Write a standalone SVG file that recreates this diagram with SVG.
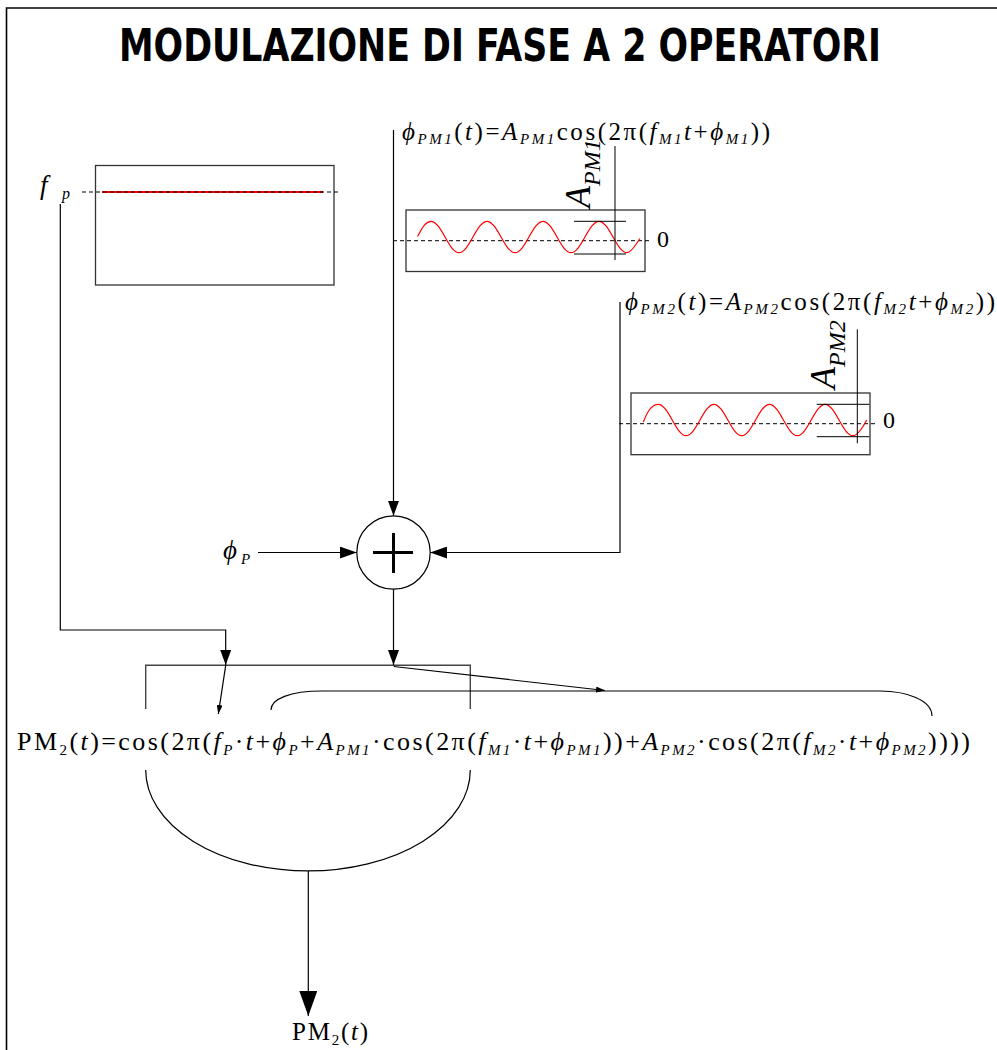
<svg xmlns="http://www.w3.org/2000/svg" width="997" height="1050" viewBox="0 0 997 1050">
<style>
.f{font-family:"Liberation Serif","Times New Roman",serif;font-size:26px;fill:#000}
.i{font-style:italic}
.s{font-size:15px}
.si{font-size:15px;font-style:italic}
.ln{fill:none;stroke:#000;stroke-width:1.2}
.gr{fill:none;stroke:#444;stroke-width:1.4}
.box{fill:none;stroke:#333;stroke-width:1.3}
.dash{fill:none;stroke:#000;stroke-width:1;stroke-dasharray:4 3}
.wave{fill:none;stroke:#f00;stroke-width:1.2}
.tick{fill:none;stroke:#000;stroke-width:1}
</style>
<defs>
<marker id="mBig" markerUnits="userSpaceOnUse" markerWidth="17" markerHeight="12" refX="17" refY="6" orient="auto"><path d="M0,0 L17,6 L0,12 z" fill="#000"/></marker>
<marker id="mMid" markerUnits="userSpaceOnUse" markerWidth="15" markerHeight="11" refX="15" refY="5.5" orient="auto"><path d="M0,0 L15,5.5 L0,11 z" fill="#000"/></marker>
<marker id="mSmall" markerUnits="userSpaceOnUse" markerWidth="9" markerHeight="6" refX="9" refY="3" orient="auto"><path d="M0,0 L9,3 L0,6 z" fill="#000"/></marker>
<marker id="mOut" markerUnits="userSpaceOnUse" markerWidth="25" markerHeight="18" refX="25" refY="9" orient="auto"><path d="M0,0 L25,9 L0,18 z" fill="#000"/></marker>
</defs>
<rect x="0" y="0" width="997" height="1050" fill="#fff"/>
<path d="M6.5,1050 V8 H997" fill="none" stroke="#000" stroke-width="1.6"/>
<text x="119" y="61" font-family="DejaVu Sans, sans-serif" font-weight="bold" font-stretch="condensed" font-size="44" textLength="762" lengthAdjust="spacingAndGlyphs">MODULAZIONE DI FASE A 2 OPERATORI</text>

<g id="carrier">
<rect class="box" x="95.5" y="165.5" width="238.5" height="119.5"/>
<line x1="102" y1="192" x2="323" y2="192" stroke="#f00" stroke-width="2"/>
<line class="dash" x1="82" y1="192" x2="339" y2="192"/>
<text class="f i" x="40" y="194" style="font-size:27px">f</text><text class="f si" x="62" y="199" style="font-size:16px">p</text>
</g>

<g id="mod1">
<text class="f" x="402" y="140" textLength="368" lengthAdjust="spacing" style="font-size:25px"><tspan class="i">ϕ</tspan><tspan class="si" dy="4">PM1</tspan><tspan dy="-4">(</tspan><tspan class="i">t</tspan>)=<tspan class="i">A</tspan><tspan class="si" dy="4">PM1</tspan><tspan dy="-4">cos(2π(</tspan><tspan class="i">f</tspan><tspan class="si" dy="4">M1</tspan><tspan class="i" dy="-4">t</tspan>+<tspan class="i">ϕ</tspan><tspan class="si" dy="4">M1</tspan><tspan dy="-4">))</tspan></text>
<rect class="box" x="406" y="210" width="239" height="61.5"/>
<line class="dash" x1="393" y1="240.7" x2="652" y2="240.7"/>
<path class="wave" d="M417.5,236.5 C421.5,229.5 425,221.3 431,221.3 C441.2,221.3 448.8,252.7 459,252.7 S476.8,221.3 487,221.3 S504.8,252.7 515,252.7 S532.8,221.3 543,221.3 S560.8,252.7 571,252.7 S588.8,221.3 599,221.3 S616.8,252.7 627,252.7 C631.5,252.7 636,244 640,238.5"/>
<path class="tick" d="M574,221.3 H626 M574,254 H626 M615,146 V260"/>
<text class="f i" transform="translate(590,208) rotate(-90)" style="font-size:36px">A<tspan style="font-size:24px" dy="10">PM1</tspan></text>
<text class="f" x="657" y="247" style="font-size:24px">0</text>
</g>

<g id="mod2">
<text class="f" x="625" y="310" textLength="370" lengthAdjust="spacing" style="font-size:25px"><tspan class="i">ϕ</tspan><tspan class="si" dy="4">PM2</tspan><tspan dy="-4">(</tspan><tspan class="i">t</tspan>)=<tspan class="i">A</tspan><tspan class="si" dy="4">PM2</tspan><tspan dy="-4">cos(2π(</tspan><tspan class="i">f</tspan><tspan class="si" dy="4">M2</tspan><tspan class="i" dy="-4">t</tspan>+<tspan class="i">ϕ</tspan><tspan class="si" dy="4">M2</tspan><tspan dy="-4">))</tspan></text>
<rect class="box" x="631" y="393" width="239" height="61.7"/>
<line class="dash" x1="619" y1="423.7" x2="877" y2="423.7"/>
<path class="wave" d="M643.3,421.9 C647,413 651,404.3 658.3,404.3 C668.4,404.3 676,435.7 686.1,435.7 S703.8,404.3 713.9,404.3 S731.6,435.7 741.7,435.7 S759.4,404.3 769.5,404.3 S787.2,435.7 797.3,435.7 S815,404.3 825.1,404.3 S842.8,435.7 852.9,435.7 C858,435.7 862.5,428 866.7,420"/>
<path class="tick" d="M816.7,404.3 H869.3 M816.7,436.7 H869.3 M857.3,329.3 V443.3"/>
<text class="f i" transform="translate(835,389) rotate(-90)" style="font-size:36px">A<tspan style="font-size:24px" dy="10">PM2</tspan></text>
<text class="f" x="883" y="428" style="font-size:24px">0</text>
</g>

<g id="phiP">
<text class="f i" x="223" y="559" style="font-size:27px">ϕ</text><text class="f si" x="241" y="564">P</text>
</g>

<g id="sum">
<circle cx="393.5" cy="552.5" r="36.7" fill="none" stroke="#000" stroke-width="1.2"/>
<path d="M373,552.5 H413 M393.5,533 V573" stroke="#000" stroke-width="3" fill="none"/>
</g>

<g id="formula">
<path class="gr" d="M145.7,709 V665.3 H470.3 V709"/>
<path class="ln" d="M271,710 C271,699 290,691 322,691 L880,691 C906,691 932,700 932,716"/>
<text class="f" x="17" y="750" textLength="953" lengthAdjust="spacing">PM<tspan class="s" dy="5">2</tspan><tspan dy="-5">(</tspan><tspan class="i">t</tspan>)=cos(2π(<tspan class="i">f</tspan><tspan class="si" dy="5">P</tspan><tspan dy="-5">·</tspan><tspan class="i">t</tspan>+<tspan class="i">ϕ</tspan><tspan class="si" dy="5">P</tspan><tspan dy="-5">+</tspan><tspan class="i">A</tspan><tspan class="si" dy="5">PM1</tspan><tspan dy="-5">·cos(2π(</tspan><tspan class="i">f</tspan><tspan class="si" dy="5">M1</tspan><tspan dy="-5">·</tspan><tspan class="i">t</tspan>+<tspan class="i">ϕ</tspan><tspan class="si" dy="5">PM1</tspan><tspan dy="-5">))+</tspan><tspan class="i">A</tspan><tspan class="si" dy="5">PM2</tspan><tspan dy="-5">·cos(2π(</tspan><tspan class="i">f</tspan><tspan class="si" dy="5">M2</tspan><tspan dy="-5">·</tspan><tspan class="i">t</tspan>+<tspan class="i">ϕ</tspan><tspan class="si" dy="5">PM2</tspan><tspan dy="-5">))))</tspan></text>
<path class="ln" d="M145.7,770 A162.3,101 0 0 0 470.3,770"/>
</g>

<g id="output">
<text class="f" x="292" y="1040" textLength="76" lengthAdjust="spacing" style="font-size:25px">PM<tspan class="s" dy="5">2</tspan><tspan dy="-5">(</tspan><tspan class="i">t</tspan>)</text>
</g>

<g id="connectors">
<path class="ln" d="M60.3,204 V630 H225.7 V665" marker-end="url(#mMid)"/>
<path class="ln" d="M393.5,130 V515.8" marker-end="url(#mMid)"/>
<path class="ln" d="M620,302 V552.5 H430.2" marker-end="url(#mBig)"/>
<path class="ln" d="M258,552.5 H356.8" marker-end="url(#mBig)"/>
<path class="ln" d="M393.5,589.2 V665" marker-end="url(#mMid)"/>
<path class="ln" d="M225.7,665.3 L218.3,714" marker-end="url(#mSmall)"/>
<path class="ln" d="M393.7,666.5 L605,690.5" marker-end="url(#mSmall)"/>
<path class="ln" d="M308.3,871 V1016" marker-end="url(#mOut)"/>
</g>
</svg>
